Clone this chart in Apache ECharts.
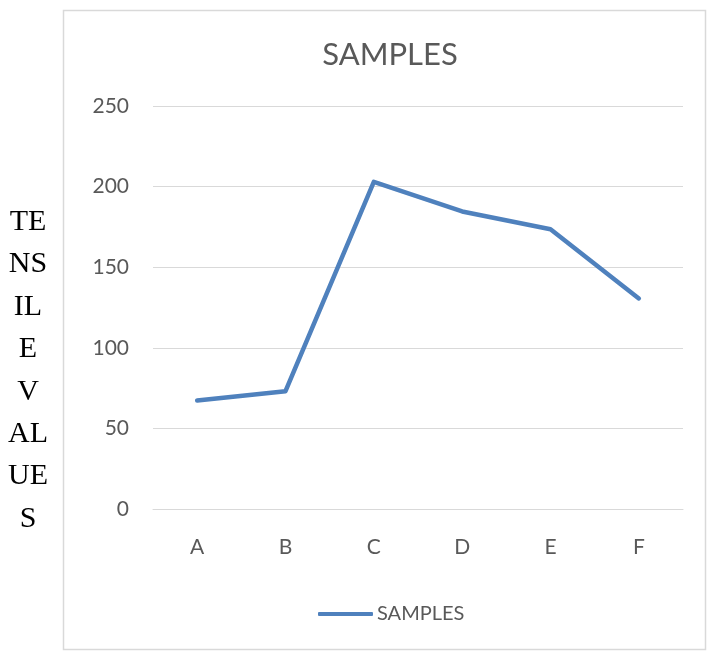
<!DOCTYPE html>
<html><head><meta charset="utf-8">
<script src="https://cdn.jsdelivr.net/npm/echarts@6/dist/echarts.min.js"></script>
<style>html,body{margin:0;padding:0;background:#fff;}#c{width:707px;height:652px;}</style>
</head><body><div id="c"></div>
<script>
const categories = ['A','B','C','D','E','F'];
const samples = [67.3, 73.1, 203, 184.6, 173.5, 130.6];
const yTicks = [0, 50, 100, 150, 200, 250];
const yTitleLines = ['TE','NS','IL','E','V','AL','UE','S'];

const chart = echarts.init(document.getElementById('c'), null, {renderer:'canvas'});
chart.setOption({
  animation:false,
  backgroundColor:'#fff',
  title:{text:'SAMPLES', left:385, top:34, textAlign:'center',
    textStyle:{fontFamily:'Lato', fontSize:31, fontWeight:'normal', color:'#595959'}},
  legend:{data:['SAMPLES'], left:313, top:599, itemWidth:55, itemHeight:4, itemGap:4,
    icon:'roundRect',
    textStyle:{fontFamily:'Lato', fontSize:20, color:'#595959', padding:[0,0,0,-1]}},
  grid:{left:153, right:24, top:106, bottom:143, containLabel:false},
  xAxis:{type:'category', data:categories, boundaryGap:true,
    axisLine:{show:true, lineStyle:{color:'#d9d9d9', width:1}},
    axisTick:{show:false},
    axisLabel:{fontFamily:'Lato', fontSize:21, color:'#595959', margin:28}},
  yAxis:{type:'value', min:yTicks[0], max:yTicks[yTicks.length-1], interval:50,
    axisLine:{show:false}, axisTick:{show:false},
    splitLine:{lineStyle:{color:'#d9d9d9', width:1}},
    axisLabel:{fontFamily:'Lato', fontSize:21, color:'#595959', margin:24}},
  graphic:[
    {type:'rect', shape:{x:63.5, y:10.5, width:642, height:639}, style:{fill:'none', stroke:'#d9d9d9', lineWidth:1.5}, z:-1},
    {type:'text', x:28, y:201, style:{text:yTitleLines.join('\n'), fill:'#000', font:'30px "Liberation Serif"', lineHeight:42.4, align:'center', verticalAlign:'top'}}
  ],
  series:[{name:'SAMPLES', type:'line', data:samples, symbol:'none',
    lineStyle:{color:'#4f81bd', width:4.5, cap:'round', join:'round'},
    itemStyle:{color:'#4f81bd'}}]
});
</script></body></html>
